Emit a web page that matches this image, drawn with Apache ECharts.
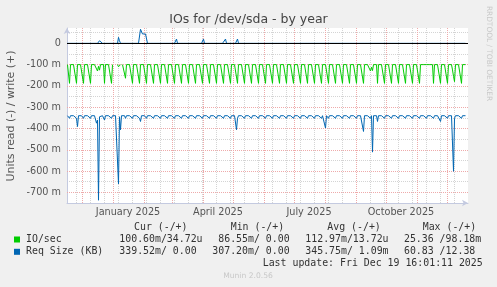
<!DOCTYPE html>
<html><head><meta charset="utf-8">
<script src="https://cdn.jsdelivr.net/npm/echarts@6/dist/echarts.min.js"></script>
<style>html,body{margin:0;padding:0;background:#f0f0f0;}#c{width:497px;height:287px;}</style>
</head><body><div id="c"></div>
<script>
// ---- data (daily averages, milli-units; read values are drawn below zero) ----
// day 0 = 2024-11-16 ; one value per day, rows are 7 days (Sat..Fri)
const ioRead = [
100,100,188,100,100,100,100,
100,100,188,100,100,100,100,
100,100,188,100,100,100,100,
100,100,188,100,100,100,100,
100,100,130,108,126,100,100,
100,100,188,100,100,100,100,
100,100,188,100,null,null,null,
null,100,110,104,100,null,100,
102,100,164,100,100,100,100,
100,100,188,100,100,100,100,
100,100,188,100,100,100,100,
100,100,188,100,100,100,100,
100,100,188,100,100,100,100,
100,100,188,100,100,100,100,
100,100,188,100,100,100,100,
100,100,188,100,100,100,100,
100,100,188,100,100,100,100,
100,100,188,100,100,100,100,
100,100,188,100,100,100,100,
100,100,188,100,100,100,100,
100,100,188,100,100,100,100,
100,100,188,100,100,100,100,
100,100,188,100,100,100,100,
100,100,188,100,100,100,100,
100,100,188,100,100,100,100,
100,100,188,100,100,100,100,
100,100,188,100,100,100,100,
100,100,188,100,100,100,100,
100,100,188,100,100,100,100,
100,100,188,100,100,100,100,
100,100,188,100,100,100,100,
100,100,188,100,100,100,100,
100,100,188,100,100,100,100,
100,100,188,100,100,100,100,
100,100,188,100,100,100,100,
100,100,188,100,100,100,100,
100,100,188,100,100,100,100,
100,100,188,100,100,100,100,
100,100,188,100,100,100,100,
100,100,188,100,100,100,100,
100,100,188,100,100,100,100,
100,100,188,100,100,100,100,
100,100,188,100,100,100,100,
100,100,130,112,128,100,100,
100,100,188,100,100,100,100,
100,100,188,100,100,100,100,
100,100,188,100,100,100,100,
100,100,188,100,100,100,100,
100,100,188,100,100,100,100,
100,100,188,100,100,100,100,
100,100,188,100,100,100,100,
100,100,100,100,100,100,100,
100,100,188,100,100,100,100,
100,100,188,100,100,100,100,
100,100,188,100,100,100,100,
125,155,180,100,100,100,100,
100,100,188,100,100,100,100
];
const reqRead = [
340,340,352,340,340,340,340,
340,340,352,391,340,340,340,
340,340,352,340,340,340,340,
340,340,352,340,340,340,340,
340,375,360,737,345,340,340,
340,340,360,340,340,340,340,
340,340,352,340,340,340,340,
340,340,660,345,406,340,340,
340,340,352,340,340,340,340,
340,340,352,340,340,340,340,
340,340,352,367,340,340,340,
340,340,352,340,340,340,340,
340,340,352,340,340,340,340,
340,340,352,340,340,340,340,
340,340,352,340,340,340,340,
340,340,352,340,340,340,340,
340,340,352,340,340,340,340,
340,340,352,340,340,340,340,
340,340,352,340,340,340,340,
340,340,352,340,340,340,340,
340,340,352,340,340,340,340,
340,340,352,340,340,340,340,
340,340,352,340,340,340,340,
340,340,352,340,340,340,340,
340,406,352,340,340,340,340,
340,340,352,340,340,340,340,
340,340,352,340,340,340,340,
340,340,352,340,340,340,340,
340,340,352,340,340,340,340,
340,340,352,340,340,340,340,
340,340,352,340,340,340,340,
340,340,352,340,340,340,340,
340,340,352,340,340,340,340,
340,340,352,340,340,340,340,
340,340,352,340,340,340,340,
340,340,352,340,340,340,340,
340,340,352,340,340,340,398,
340,340,352,340,340,340,340,
340,340,352,340,340,340,340,
340,340,352,340,340,340,340,
340,340,352,340,340,340,340,
340,340,352,340,340,340,340,
340,340,414,340,340,340,340,
340,340,352,340,511,340,340,
340,340,367,340,340,340,340,
340,340,352,340,340,340,340,
340,340,352,340,340,340,340,
340,340,352,340,340,340,340,
340,340,352,340,340,340,340,
340,340,352,340,340,340,340,
340,340,352,340,340,340,340,
340,340,352,340,340,340,340,
340,340,352,340,340,340,340,
340,340,367,340,340,340,340,
340,340,352,340,340,340,340,
340,601,352,340,340,340,340,
340,340,352,340,340,340,340
];
const reqWrite = [
0,0,0,0,0,0,0,
0,0,0,0,0,0,0,
0,0,0,0,0,0,0,
0,0,0,0,0,0,0,
0,0,0,0,12,6,20,
0,0,0,0,0,0,0,
0,0,0,0,0,0,0,
0,0,28,12,0,0,0,
0,0,0,0,0,0,0,
0,0,0,0,0,0,0,
0,0,0,66,60,44,44,
44,44,44,0,0,0,0,
0,0,0,0,0,0,0,
0,0,0,0,0,0,0,
0,0,0,0,0,0,0,
0,0,0,0,20,0,0,
0,0,0,0,0,0,0,
0,0,0,0,0,0,0,
0,0,0,0,0,0,0,
0,0,0,20,0,0,0,
0,0,0,0,0,0,0,
0,0,0,0,0,0,0,
0,0,0,0,20,0,0,
0,0,0,0,0,0,0,
0,0,20,0,0,0,0,
0,0,0,0,0,0,0,
0,0,0,0,0,0,0,
0,0,0,0,0,0,0,
0,0,0,0,0,0,0,
0,0,0,0,0,0,0,
0,0,0,0,0,0,0,
0,0,0,0,0,0,0,
0,0,0,0,0,0,0,
0,0,0,0,0,0,0,
0,0,0,0,0,0,0,
0,0,0,0,0,0,0,
0,0,0,0,0,0,0,
0,0,0,0,0,0,0,
0,0,0,0,0,0,0,
0,0,0,0,0,0,0,
0,0,0,0,0,0,0,
0,0,0,0,0,0,0,
0,0,0,0,0,0,0,
0,0,0,8,0,0,0,
0,0,0,0,0,0,0,
0,0,0,0,0,0,0,
0,0,0,0,0,0,0,
0,0,0,0,0,0,0,
0,0,0,0,0,0,0,
0,0,0,0,0,0,0,
0,0,0,0,0,0,0,
0,0,0,0,0,0,0,
0,0,0,0,0,0,0,
0,0,0,0,0,0,0,
0,0,0,0,0,0,0,
0,8,0,0,0,0,0,
0,0,0,0,0,0,0
];
// tick labels / axis text
const monthLabels = ['January 2025','April 2025','July 2025','October 2025'];
const monthLabelDates = [[2025,1],[2025,4],[2025,7],[2025,10]];
const yMajorTicks = [-700,-600,-500,-400,-300,-200,-100];
const seriesNames = ['IO/sec','Req Size (KB)'];
const colHeads = ['Cur (-/+)','Min (-/+)','Avg (-/+)','Max (-/+)'];
const ioStats = ['100.60m/34.72u',' 86.55m/ 0.00 ','112.97m/13.72u',' 25.36 /98.18m'];
const reqStats = ['339.52m/ 0.00 ','307.20m/ 0.00 ','345.75m/ 1.09m',' 60.83 /12.38 '];

// ---- build ----
const START = Date.UTC(2024,10,16), DAY = 86400000, SPAN = 401;
const dayOf = (y,m,d) => (Date.UTC(y,m-1,d||1) - START) / DAY;
const toPts = (arr, sign) => arr.map((v,i) => [i + 0.5, v == null ? '-' : sign * v]);

const labelPos = monthLabelDates.map(([y,m]) => dayOf(y,m) + 15);
const monthLines = [];
for (let y = 2024, m = 12; y < 2026; ) { const d = dayOf(y,m); if (d > 0 && d < SPAN) monthLines.push(d); m++; if (m > 12) { m = 1; y++; } }
const weekLines = [];
for (let d = dayOf(2024,11,25); d < SPAN; d += 14) weekLines.push(d);

const GREEN = '#00cc00', BLUE = '#0066b3';
const chart = echarts.init(document.getElementById('c'), null, {renderer:'canvas'});
const mono = '9.9px "DejaVu Sans Mono"';
const txt = (text, x, y, extra) => Object.assign({type:'text', x, y, silent:true,
  style: Object.assign({text, font: mono, fill:'#333', align:'left', verticalAlign:'middle'}, extra || {})});
const colX = [119.3, 212.3, 305.3, 398];
const headX = [134, 230.7, 327.3, 422.7];
const graphic = [
  txt('IOs for /dev/sda - by year', 248.5, 19.5, {font:'12.5px "DejaVu Sans"', fill:'#444', align:'center'}),
  Object.assign(txt('Units read (-) / write (+)', 11.5, 116, {font:'10.9px "DejaVu Sans"', fill:'#555', align:'center'}), {rotation: Math.PI/2}),
  Object.assign(txt('RRDTOOL / TOBI OETIKER', 488.5, 53.5, {font:'7.4px "DejaVu Sans"', fill:'#c8c8c8', align:'center'}), {rotation: -Math.PI/2}),
  {type:'rect', shape:{x:14, y:236.5, width:6, height:6}, style:{fill:GREEN}, silent:true},
  {type:'rect', shape:{x:14, y:248.8, width:6, height:6}, style:{fill:BLUE}, silent:true},
  txt(seriesNames[0], 26, 239.5),
  txt(seriesNames[1], 26, 251.8),
  txt('Last update: Fri Dec 19 16:01:11 2025', 482.7, 263.8, {align:'right'}),
  txt('Munin 2.0.56', 248, 276, {font:'7.6px "DejaVu Sans"', fill:'#c8c8c8', align:'center'})
];
colHeads.forEach((h,i) => graphic.push(txt(h, headX[i], 227.6)));
ioStats.forEach((s,i) => graphic.push(txt(s, colX[i], 239.5)));
reqStats.forEach((s,i) => graphic.push(txt(s, colX[i], 251.8)));

const dotted = (color) => ({color, width:1, type:[1,1]});
chart.setOption({
  animation:false,
  backgroundColor:'#f0f0f0',
  textStyle:{fontFamily:'DejaVu Sans'},
  grid:{left:67, right:29, top:28, bottom:84, show:true, backgroundColor:'#ffffff', borderWidth:0},
  xAxis:{type:'value', min:0, max:SPAN,
    axisLine:{show:true, onZero:false, lineStyle:{color:'#c4cae0'}, symbol:['none','arrow'], symbolSize:[5,6]},
    axisTick:{show:false}, splitLine:{show:false},
    axisLabel:{customValues:labelPos, margin:4, color:'#555', fontSize:9.7,
      formatter:(v) => { let b=0; labelPos.forEach((p,i)=>{ if (Math.abs(p-v) < Math.abs(labelPos[b]-v)) b=i; }); return monthLabels[b]; }}},
  yAxis:{type:'value', min:-750, max:72, interval:50,
    axisLine:{show:true, lineStyle:{color:'#c4cae0'}, symbol:['none','arrow'], symbolSize:[5,6]},
    axisTick:{show:false},
    splitLine:{show:true, showMaxLine:false, lineStyle:dotted('#d4d4d4')},
    axisLabel:{margin:6, color:'#555', fontSize:9.7,
      formatter:(v) => (v % 100 === 0 ? (v === 0 ? '0' : v + ' m') : '')}},
  graphic,
  series:[
    {name:'req write', type:'line', data:toPts(reqWrite, 1), showSymbol:false, z:2,
      lineStyle:{color:BLUE, width:1}, itemStyle:{color:BLUE},
      markLine:{silent:true, z:1, symbol:['none','none'], label:{show:false}, animation:false,
        data: [
          ...weekLines.map(d => ({xAxis:d, lineStyle:dotted('#d4d4d4')})),
          ...yMajorTicks.map(v => ({yAxis:v, lineStyle:dotted('#eeaaaa')})),
          ...monthLines.map(d => ({xAxis:d, lineStyle:dotted('#eeaaaa')}))
        ]}},
    {name:seriesNames[1], type:'line', data:toPts(reqRead, -1), showSymbol:false, z:2,
      lineStyle:{color:BLUE, width:1}, itemStyle:{color:BLUE}},
    {name:seriesNames[0], type:'line', data:toPts(ioRead, -1), showSymbol:false, z:2, connectNulls:false,
      lineStyle:{color:GREEN, width:1}, itemStyle:{color:GREEN},
      markLine:{silent:true, z:4, symbol:['none','none'], label:{show:false}, animation:false,
        data:[{yAxis:0, lineStyle:{color:'#000000', width:1, type:'solid'}}]}}
  ]
});
</script></body></html>
